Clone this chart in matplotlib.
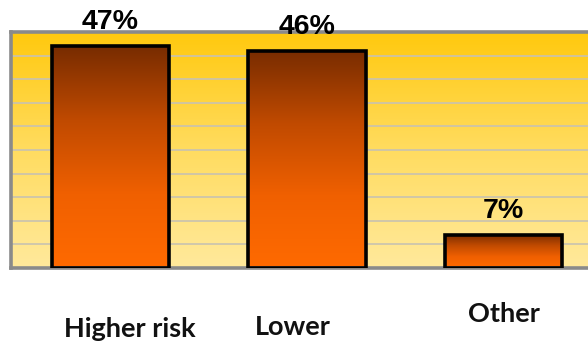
import matplotlib.pyplot as plt
import numpy as np
from matplotlib.colors import LinearSegmentedColormap
from matplotlib.patches import Rectangle

categories = ["Higher risk", "Lower", "Other"]
values = [47, 46, 7]
value_labels = ["47%", "46%", "7%"]

# x offsets (in category units) and pixel heights of the category captions
label_dx = [0.10, -0.07, 0.0]
label_y = [337, 335, 322]

W, H = 588, 348
fig = plt.figure(figsize=(W / 100, H / 100), dpi=100)
ax = fig.add_axes([11 / W, 1 - 268 / H, (602 - 11) / W, (268 - 32) / H])

x = np.arange(len(categories))
ax.set_xlim(-0.505, 2.5)
ax.set_ylim(0, 50)

# background gradient: gold at top, pale yellow at bottom
bg = LinearSegmentedColormap.from_list("bg", ["#ffe99c", "#ffdc60", "#ffc90e"])
grad = np.linspace(0, 1, 256).reshape(-1, 1)
ax.imshow(grad, cmap=bg, origin="lower", aspect="auto",
          extent=[-0.505, 2.5, 0, 50], zorder=0)

ax.set_yticks(np.arange(5, 50, 5))
ax.grid(axis="y", color="#c8c2b0", lw=1.2, zorder=1)
ax.tick_params(left=False, bottom=False, labelleft=False, labelbottom=False)
for s in ["left", "top", "bottom"]:
    ax.spines[s].set_color("#8a8a8a")
    ax.spines[s].set_linewidth(2.6)
ax.spines["right"].set_visible(False)

# bars with a dark-brown to orange gradient inside each bar
bar_cmap = LinearSegmentedColormap.from_list("bar", ["#ff6a00", "#f06000", "#c04a00", "#782c00"])
width = 0.595
bars = ax.bar(x, values, width, facecolor="none", edgecolor="black", lw=2.6, zorder=3)
for b in bars:
    x0, y0 = b.get_x(), b.get_y()
    w, h = b.get_width(), b.get_height()
    im = ax.imshow(grad, cmap=bar_cmap, origin="lower", aspect="auto",
                   extent=[x0, x0 + w, y0, y0 + h], zorder=2)
    im.set_clip_path(Rectangle((x0, y0), w, h, transform=ax.transData))

for xi, v, lab in zip(x, values, value_labels):
    ax.annotate(lab, (xi, v), xytext=(0, 17), textcoords="offset pixels",
                ha="center", va="baseline", fontsize=20.5, fontweight="bold",
                family="Liberation Sans", annotation_clip=False)

for xi, cat, dx, py in zip(x, categories, label_dx, label_y):
    px = ax.transData.transform((xi + dx, 0))[0]
    fig.text(px / W, 1 - py / H, cat, ha="center", va="baseline",
             fontsize=19.5, fontweight="bold", family="Lato", color="#111111")

fig.savefig("out.png", dpi=100)
